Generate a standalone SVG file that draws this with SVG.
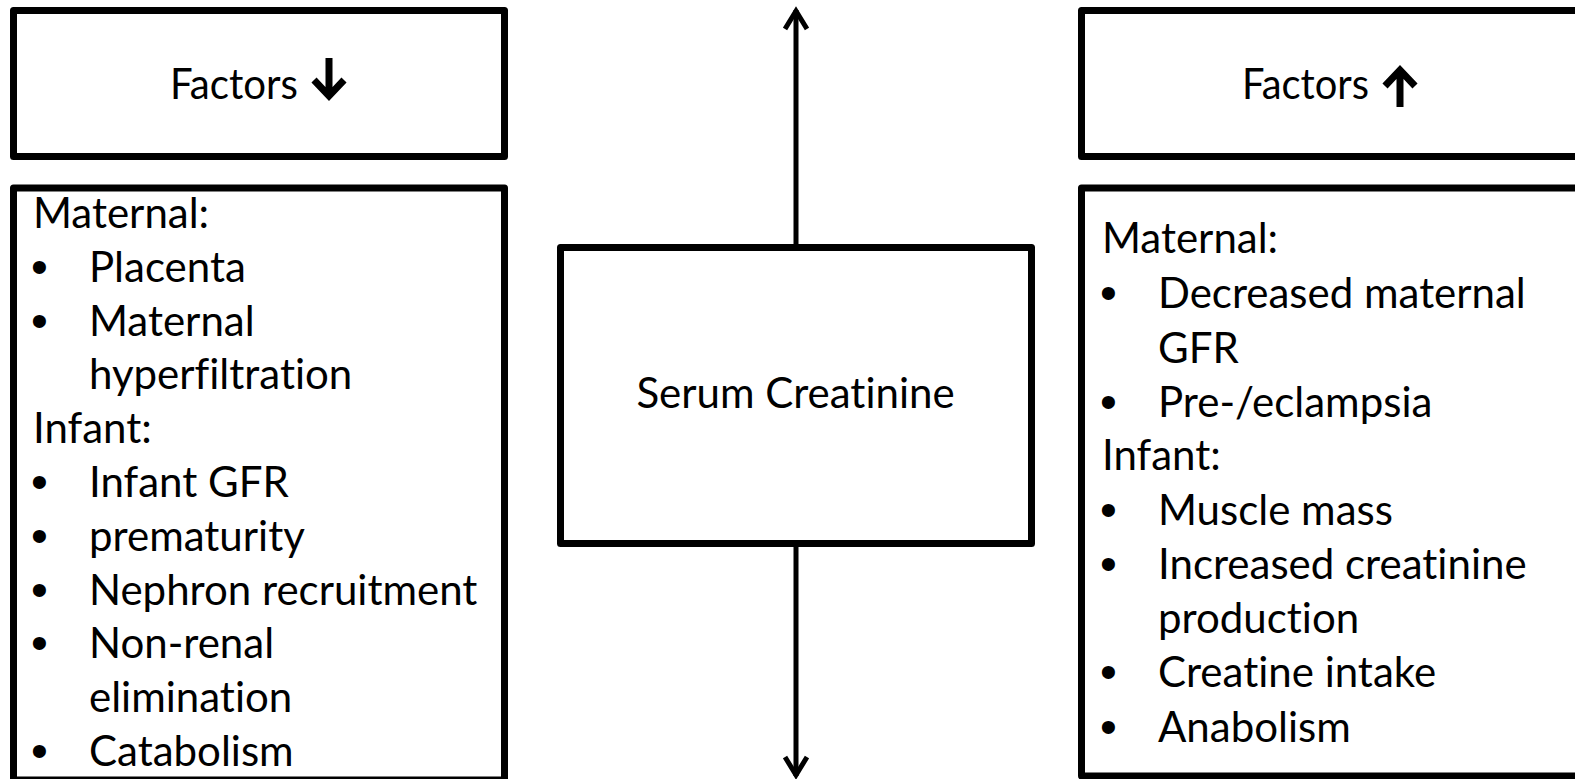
<svg xmlns="http://www.w3.org/2000/svg" width="1575" height="779" viewBox="0 0 1575 779">
<style>
.box{fill:#fff;stroke:#000;stroke-width:7;stroke-linejoin:round}
.t{font-family:Lato,"Open Sans","Liberation Sans",sans-serif;font-size:42px;fill:#000;font-variant-ligatures:none;font-feature-settings:"liga" 0,"clig" 0}
.b{font-family:"Liberation Sans",sans-serif;font-size:48px;fill:#000}
.ic{fill:none;stroke:#000;stroke-width:7;stroke-linecap:butt;stroke-linejoin:miter}
.conn{fill:none;stroke:#000;stroke-width:5}
</style>
<defs>
<marker id="ah" markerUnits="userSpaceOnUse" markerWidth="26" markerHeight="26" refX="22" refY="12" orient="auto-start-reverse" viewBox="0 0 26 24">
<path d="M3,1 L21,12 L3,23" fill="none" stroke="#000" stroke-width="5"/>
</marker>
</defs>
<rect width="1575" height="779" fill="#fff"/>
<g id="connectors">
<line class="conn" x1="796" y1="10" x2="796" y2="247" marker-start="url(#ah)"/>
<line class="conn" x1="796" y1="544" x2="796" y2="776" marker-end="url(#ah)"/>
</g>
<g id="factors-down">
<rect class="box" x="13.5" y="10.5" width="491" height="146"/>
<text class="t" x="170" y="99" textLength="128" lengthAdjust="spacingAndGlyphs">Factors</text>
<path class="ic" d="M329,58 V95 M314,80 L329,96 L344,80"/>
</g>
<g id="factors-up">
<rect class="box" x="1081.5" y="10.5" width="600" height="146"/>
<text class="t" x="1242" y="99" textLength="127" lengthAdjust="spacingAndGlyphs">Factors</text>
<path class="ic" d="M1400,107 V71 M1385,86 L1400,70 L1415,86"/>
</g>
<g id="serum-creatinine">
<rect class="box" x="560.5" y="247.5" width="471" height="296"/>
<text class="t" x="795.5" y="408" text-anchor="middle">Serum Creatinine</text>
</g>
<g id="down-list">
<rect class="box" x="13.5" y="188" width="491" height="592"/>
<text class="t" x="33" y="228">Maternal:</text>
<text class="b" x="31" y="283">•</text><text class="t" x="89" y="282">Placenta</text>
<text class="b" x="31" y="337">•</text><text class="t" x="89" y="336">Maternal</text>
<text class="t" x="89" y="389">hyperfiltration</text>
<text class="t" x="33" y="443">Infant:</text>
<text class="b" x="31" y="498">•</text><text class="t" x="89" y="497">Infant GFR</text>
<text class="b" x="31" y="552">•</text><text class="t" x="89" y="551">prematurity</text>
<text class="b" x="31" y="606">•</text><text class="t" x="89" y="605">Nephron recruitment</text>
<text class="b" x="31" y="659">•</text><text class="t" x="89" y="658">Non-renal</text>
<text class="t" x="89" y="712">elimination</text>
<text class="b" x="31" y="767">•</text><text class="t" x="89" y="766">Catabolism</text>
</g>
<g id="up-list">
<rect class="box" x="1081.5" y="188" width="600" height="588"/>
<text class="t" x="1102" y="253">Maternal:</text>
<text class="b" x="1100" y="309">•</text><text class="t" x="1158" y="308">Decreased maternal</text>
<text class="t" x="1158" y="363">GFR</text>
<text class="b" x="1100" y="418">•</text><text class="t" x="1158" y="417">Pre-/eclampsia</text>
<text class="t" x="1102" y="470">Infant:</text>
<text class="b" x="1100" y="526">•</text><text class="t" x="1158" y="525">Muscle mass</text>
<text class="b" x="1100" y="580">•</text><text class="t" x="1158" y="579">Increased creatinine</text>
<text class="t" x="1158" y="633">production</text>
<text class="b" x="1100" y="688">•</text><text class="t" x="1158" y="687">Creatine intake</text>
<text class="b" x="1100" y="743">•</text><text class="t" x="1158" y="742">Anabolism</text>
</g>
</svg>
